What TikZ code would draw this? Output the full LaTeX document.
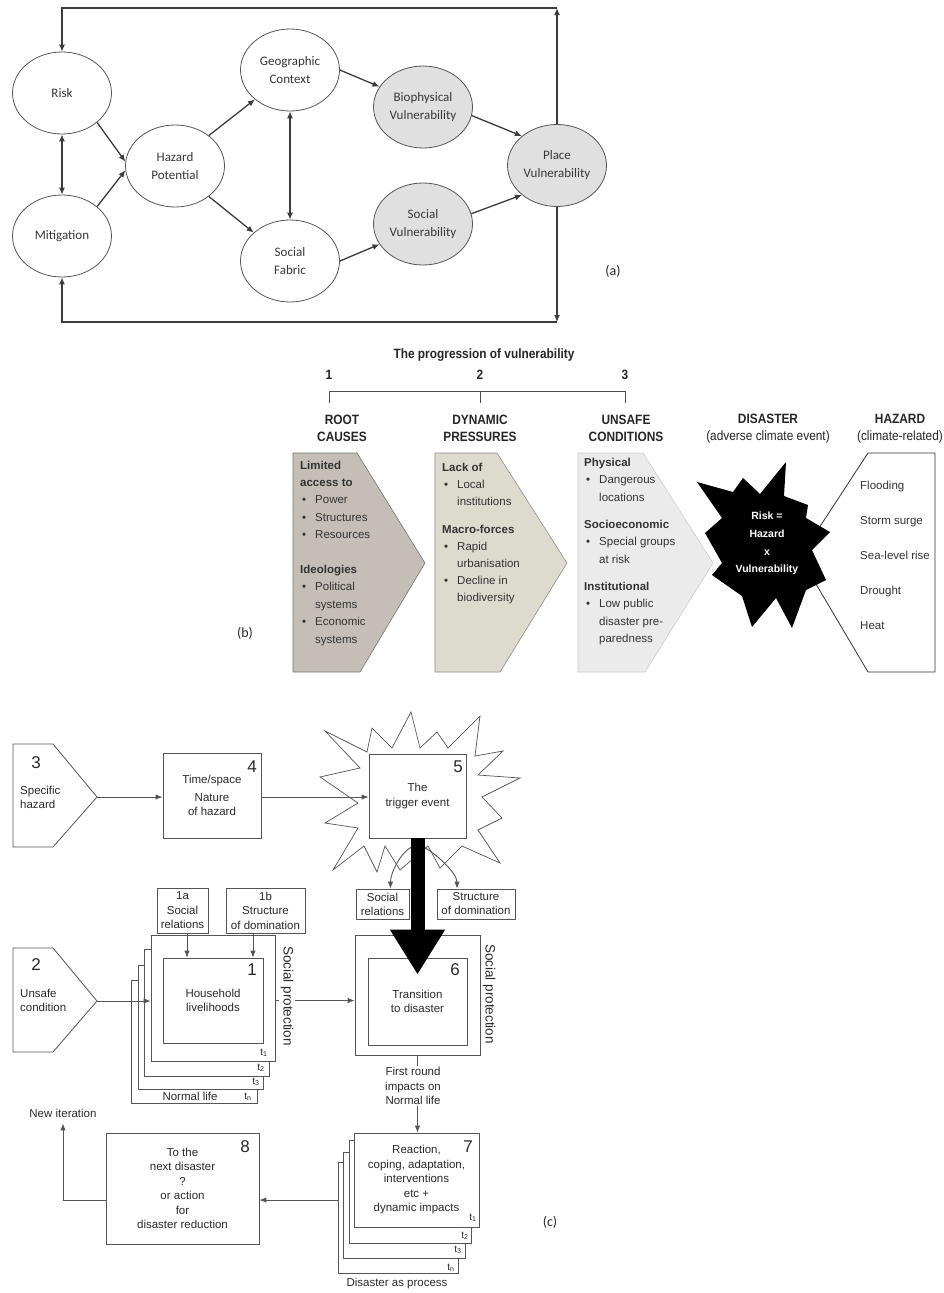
\documentclass[tikz,border=0pt]{standalone}
\usepackage{fontspec}
\setmainfont{Liberation Sans}
\newfontfamily\calib{Carlito}
\newfontfamily\narrowsans[FakeStretch=0.88]{Liberation Sans}
\usetikzlibrary{shapes.geometric,arrows.meta,calc}

\definecolor{aline}{HTML}{3C3C3C}
\definecolor{ellline}{HTML}{555555}
\definecolor{ellfill}{HTML}{E0E0E0}
\definecolor{atext}{HTML}{383838}
\definecolor{rootfill}{HTML}{C4BEB6}
\definecolor{dynfill}{HTML}{DDDACE}
\definecolor{unsfill}{HTML}{EBEBEB}
\definecolor{btext}{HTML}{333333}
\definecolor{cline}{HTML}{555555}
\definecolor{ctext}{HTML}{2A2A2A}

% bullet item and its continuation line
\newcommand{\bitem}[1]{\makebox[15pt][l]{\hspace{2pt}\textbullet}#1}
\newcommand{\bcont}[1]{\hspace*{15pt}#1}

\begin{document}
\begin{tikzpicture}[x=1pt,y=-1pt,
  ell/.style={ellipse, draw=ellline, line width=0.8pt, fill=white,
    minimum width=99pt, minimum height=82pt, inner sep=0pt, align=center,
    font=\calib\fontsize{13}{18}\selectfont, text=atext},
  gell/.style={ell, fill=ellfill},
  aarr/.style={draw=aline, line width=1.3pt, -{Latex[length=7pt,width=6pt]}},
  adbl/.style={draw=aline, line width=1.3pt,
    {Latex[length=7pt,width=6pt]}-{Latex[length=7pt,width=6pt]}},
  btxt/.style={font=\fontsize{11.5}{17.4}\selectfont, text=btext, align=left,
    anchor=north west, inner sep=0pt},
  bhead/.style={font=\narrowsans\bfseries\fontsize{13.5}{16.5}\selectfont,
    text=black!85, align=center, inner sep=0pt},
  cbox/.style={draw=cline, line width=0.8pt, fill=white, inner sep=0pt,
    align=center, text=ctext, font=\fontsize{11.5}{14.5}\selectfont},
  ctxt/.style={text=ctext, font=\fontsize{11.5}{14.5}\selectfont, inner sep=0pt},
  carr/.style={draw=cline, line width=0.9pt, -{Latex[length=7pt,width=5.5pt]}},
  cshape/.style={draw=cline, line width=0.8pt, fill=white},
  bignum/.style={font=\fontsize{17}{17}\selectfont, text=ctext, inner sep=0pt},
  tlab/.style={font=\fontsize{10}{10}\selectfont, text=ctext, inner sep=0pt},
  plabel/.style={font=\calib\fontsize{14}{14}\selectfont, text=black!85}
]
\useasboundingbox (0,0) rectangle (943,1293);

% ================= (a) place vulnerability model =================
\node[ell]  (risk)  at (62,93)    {Risk};
\node[ell]  (mit)   at (62,236)   {Mitigation};
\node[ell]  (haz)   at (175,166)  {Hazard\\Potential};
\node[ell]  (geo)   at (290,70)   {Geographic\\Context};
\node[ell]  (sfab)  at (290,261)  {Social\\Fabric};
\node[gell] (bio)   at (423,107)  {Biophysical\\Vulnerability};
\node[gell] (svul)  at (423,224)  {Social\\Vulnerability};
\node[gell] (place) at (557,165.5){Place\\Vulnerability};

% feedback loop
\coordinate (ftr) at (557,8);
\coordinate (ftl) at (62,8);
\coordinate (fbr) at (557,322);
\coordinate (fbl) at (62,322);
\draw[aarr] (place.north) -- (ftr);
\draw[aarr] (ftr) -- (ftl) -- (risk.north);
\draw[aarr] (place.south) -- (fbr);
\draw[aarr] (fbr) -- (fbl) -- (mit.south);

\draw[adbl] (risk.south) -- (mit.north);
\draw[adbl] (geo.south) -- (sfab.north);
\draw[aarr] (risk.-40) -- (haz.175);
\draw[aarr] (mit.40) -- (haz.185);
\draw[aarr] (haz.42) -- (geo.-140);
\draw[aarr] (haz.-42) -- (sfab.142);
\draw[aarr] (geo.east) -- (bio.155);
\draw[aarr] (sfab.east) -- (svul.205);
\draw[aarr] (bio.-10) -- (place.140);
\draw[aarr] (svul.12) -- (place.220);

\node[plabel] (labA) at (613,271) {(a)};

% ================= (b) progression of vulnerability =================
\node[bhead] (ptitle) at (484,355) {The progression of vulnerability};
\node[bhead] (num1) at (329,375) {1};
\node[bhead] (num2) at (480,375) {2};
\node[bhead] (num3) at (625,375) {3};
\draw[draw=black!70, line width=0.8pt] (329,403) -- (329,391) -- (625,391) -- (625,403);
\draw[draw=black!70, line width=0.8pt] (480,391) -- (480,403);

\node[bhead] (hroot) at (342,428.5) {ROOT\\CAUSES};
\node[bhead] (hdyn)  at (480,428.5) {DYNAMIC\\PRESSURES};
\node[bhead] (huns)  at (626,428.5) {UNSAFE\\CONDITIONS};
\node[bhead] (hdis)  at (768,428.5) {DISASTER\\\mdseries(adverse climate event)};
\node[bhead] (hhaz)  at (900,428.5) {HAZARD\\\mdseries(climate-related)};

% progression arrows
\draw[fill=rootfill, draw=black!55, line width=0.6pt]
  (293,453) -- (357,453) -- (425,563) -- (360,672) -- (293,672) -- cycle;
\draw[fill=dynfill, draw=black!45, line width=0.6pt]
  (435,453) -- (497,453) -- (567,563) -- (500,672) -- (435,672) -- cycle;
\draw[fill=unsfill, draw=black!20, line width=0.6pt]
  (578,453) -- (643,453) -- (713,563) -- (645,672) -- (578,672) -- cycle;

\node[btxt] (rootTxt) at (300,460.5) {\textbf{Limited}\\\textbf{access to}\\
  \bitem{Power}\\\bitem{Structures}\\\bitem{Resources}\\[17.4pt]
  \textbf{Ideologies}\\\bitem{Political}\\\bcont{systems}\\
  \bitem{Economic}\\\bcont{systems}};
\node[btxt, font=\fontsize{11.5}{17}\selectfont] (dynTxt) at (442,462.5)
  {\textbf{Lack of}\\\bitem{Local}\\\bcont{institutions}\\[11pt]
  \textbf{Macro-forces}\\\bitem{Rapid}\\\bcont{urbanisation}\\
  \bitem{Decline in}\\\bcont{biodiversity}};
\node[btxt, font=\fontsize{11.5}{17.5}\selectfont] (unsTxt) at (584,457.5)
  {\textbf{Physical}\\\bitem{Dangerous}\\\bcont{locations}\\[9.5pt]
  \textbf{Socioeconomic}\\\bitem{Special groups}\\\bcont{at risk}\\[9.5pt]
  \textbf{Institutional}\\\bitem{Low public}\\\bcont{disaster pre-}\\
  \bcont{paredness}};

% hazard panel
\draw[fill=white, draw=black!80, line width=0.8pt]
  (868,453) -- (935,453) -- (935,672) -- (868,672) -- (800,557) -- cycle;
\node[btxt, font=\fontsize{11.5}{35}\selectfont] (hazList) at (860,480.5)
  {Flooding\\Storm surge\\Sea-level rise\\Drought\\Heat};

% disaster burst
\fill[black] (786,462) -- (784,496) -- (808,505) -- (806,518) -- (830,532)
  -- (812,550) -- (826,580) -- (806,590) -- (792,628) -- (776,598)
  -- (752,627) -- (742,596) -- (712,575) -- (722,563) -- (705,533)
  -- (722,518) -- (697,482) -- (733,492) -- (743,478) -- (760,494) -- cycle;
\node[font=\bfseries\fontsize{10.5}{17.7}\selectfont, text=white,
  align=center, inner sep=0pt] (riskEq) at (767,543.5)
  {Risk =\\Hazard\\x\\Vulnerability};

\node[plabel] (labB) at (245,633) {(b)};

% ================= (c) disaster as process =================
% hazard and condition inputs
\draw[cshape] (13,744) -- (53,744) -- (97,797) -- (53,847) -- (13,847) -- cycle;
\coordinate (p3tip) at (97,797);
\node[bignum] (n3) at (36,763) {3};
\node[ctxt, align=left, anchor=west] (t3) at (20,797.5) {Specific\\hazard};

\draw[cshape] (13,948) -- (53,948) -- (97,1001) -- (53,1052) -- (13,1052) -- cycle;
\coordinate (p2tip) at (97,1001);
\node[bignum] (n2) at (36,965) {2};
\node[ctxt, align=left, anchor=west] (t2) at (20,1000.5) {Unsafe\\condition};

% box 4
\node[cbox, minimum width=98pt, minimum height=85pt] (b4) at (212,795.5)
  {Time/space\\[3pt]Nature\\of hazard};
\node[bignum] (n4) at (252,767) {4};

% trigger event burst and box 5
\draw[cshape, line width=0.7pt] (411,712) -- (420,748) -- (437,732) -- (448,748)
  -- (480,716) -- (475,756) -- (503,751) -- (478,775) -- (520,778)
  -- (482,797) -- (502,818) -- (478,830) -- (500,863) -- (462,846)
  -- (440,868) -- (428,846) -- (400,870) -- (385,846) -- (377,872)
  -- (364,846) -- (333,870) -- (358,828) -- (325,823) -- (358,803)
  -- (320,777) -- (360,768) -- (325,731) -- (367,752) -- (372,728)
  -- (392,748) -- cycle;
\node[cbox, minimum width=97pt, minimum height=84pt] (b5) at (417.5,796)
  {The\\trigger event};
\node[bignum] (n5) at (458,767) {5};

\draw[carr] (p3tip) -- (p3tip -| b4.west);
\draw[carr] (p3tip -| b4.east) -- (p3tip -| b5.west);

% social relations / domination after the event
\node[cbox, minimum width=53pt, minimum height=30pt, font=\fontsize{11.5}{14}\selectfont]
  (srel) at (382.5,904) {Social\\relations};
\node[cbox, minimum width=78pt, minimum height=30pt, font=\fontsize{11.5}{14}\selectfont]
  (sdom) at (476,904) {Structure\\of domination};
\coordinate (cl0) at ([xshift=-5pt,yshift=-8pt]b5.south);
\coordinate (cr0) at ([xshift=5pt,yshift=-8pt]b5.south);
\coordinate (cl1) at ([xshift=8pt]srel.north);
\coordinate (cr1) at ([xshift=-19pt]sdom.north);
\draw[carr] (cl0) .. controls +(-12,6) and +(0,-16) .. (cl1);
\draw[carr] (cr0) .. controls +(12,6) and +(0,-16) .. (cr1);

% box 6
\node[cbox, minimum width=125pt, minimum height=120pt] (b6out) at (417.5,995) {};
\node[cbox, minimum width=99pt, minimum height=87pt] (b6in) at (417.5,1001.5)
  {Transition\\to disaster};
\node[bignum] (n6) at (455,970) {6};
\node[ctxt, rotate=-90, font=\fontsize{13.5}{14}\selectfont] (sp6) at (489,994)
  {Social protection};

% heavy trigger arrow
\draw[line width=14pt, -{Triangle[length=45pt,width=52pt]}]
  (b5.south) -- ([yshift=-17pt]b6in.north);

% household livelihoods stack
\node[cbox, minimum width=126pt, minimum height=123pt] (f1d) at (194,1041.5) {};
\node[cbox, minimum width=125pt, minimum height=124pt] (f1c) at (200.5,1027) {};
\node[cbox, minimum width=124.5pt, minimum height=127pt] (f1b) at (206.75,1012.5) {};
\node[cbox, minimum width=124pt, minimum height=126pt] (f1a) at (213,998) {};
\node[cbox, minimum width=100pt, minimum height=85pt] (b1in) at (213,1000.5)
  {Household\\livelihoods};
\node[bignum] (n1) at (252,970) {1};
\node[tlab] (t1a) at (264,1053) {t\textsubscript{1}};
\node[tlab] (t1b) at (261,1068) {t\textsubscript{2}};
\node[tlab] (t1c) at (256,1082) {t\textsubscript{3}};
\node[tlab] (t1d) at (248,1097) {t\textsubscript{n}};
\node[ctxt, fill=white, inner sep=1.5pt] (nl1) at (190,1096) {Normal life};

\node[cbox, minimum width=51pt, minimum height=45pt] (s1a) at (182.5,910.5)
  {1a\\Social\\relations};
\node[cbox, minimum width=79pt, minimum height=45pt] (s1b) at (265.5,910.5)
  {1b\\Structure\\of domination};
\coordinate (a1a) at ([xshift=4.5pt]s1a.south);
\coordinate (a1b) at ([xshift=-12.5pt]s1b.south);
\draw[carr] (a1a) -- (a1a |- b1in.north);
\draw[carr] (a1b) -- (a1b |- b1in.north);

\draw[carr] (p2tip) -- (p2tip -| f1a.west);
\draw[carr] (b1in.east -| f1a.east) -- (b1in.east -| b6out.west);
\node[ctxt, rotate=-90, fill=white, inner sep=2pt, font=\fontsize{13.5}{14}\selectfont]
  (sp1) at (287,996) {Social protection};

% disaster as process stack
\node[cbox, minimum width=120pt, minimum height=111pt] (f7d) at (398,1217.5) {};
\node[cbox, minimum width=122pt, minimum height=106pt] (f7c) at (404,1205) {};
\node[cbox, minimum width=122pt, minimum height=103pt] (f7b) at (410,1191.5) {};
\node[cbox, minimum width=125pt, minimum height=94pt] (f7a) at (416.5,1180)
  {Reaction,\\coping, adaptation,\\interventions\\etc +\\dynamic impacts};
\node[bignum] (n7) at (468,1147) {7};
\node[tlab] (t7a) at (473,1218) {t\textsubscript{1}};
\node[tlab] (t7b) at (465,1236) {t\textsubscript{2}};
\node[tlab] (t7c) at (458,1250) {t\textsubscript{3}};
\node[tlab] (t7d) at (451,1268) {t\textsubscript{n}};
\node[ctxt] (dap) at (397,1284) {Disaster as process};

\draw[carr] (b6out.south) -- (b6out.south |- f7a.north);
\node[ctxt, fill=white, inner sep=1.5pt, align=center] (frl) at (413,1086)
  {First round\\impacts on\\Normal life};

% box 8 and the new iteration
\node[cbox, minimum width=153pt, minimum height=111pt] (b8) at (182.5,1188.5)
  {To the\\next disaster\\?\\or action\\for\\disaster reduction};
\node[bignum] (n8) at (245,1147) {8};
\coordinate (y78) at (0,1200);
\draw[carr] (f7d.west |- y78) -- (b8.east |- y78);
\node[ctxt] (nit) at (63,1113) {New iteration};
\draw[carr, shorten >=6pt] (b8.west |- y78) -- (nit.south |- y78) -- (nit.south);

\node[plabel] (labC) at (550,1222) {(c)};
\end{tikzpicture}
\end{document}
